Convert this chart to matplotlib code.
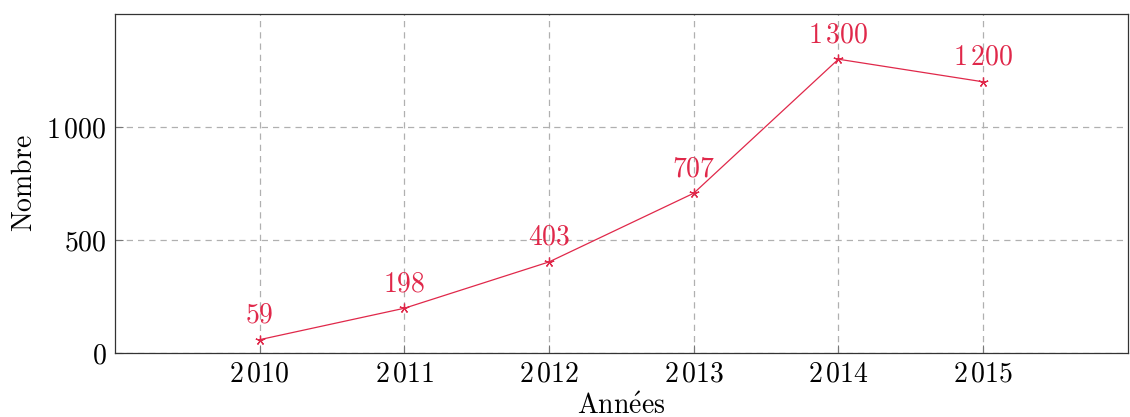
import matplotlib
matplotlib.use("Agg")
import matplotlib.pyplot as plt

years = [2010, 2011, 2012, 2013, 2014, 2015]
counts = [59, 198, 403, 707, 1300, 1200]
point_labels = ["59", "198", "403", "707", r"1\,300", r"1\,200"]
ytick_vals = [0, 500, 1000]
ytick_labels = ["0", "500", r"1\,000"]
xtick_labels = [r"2\,010", r"2\,011", r"2\,012", r"2\,013", r"2\,014", r"2\,015"]

plt.rcParams["mathtext.fontset"] = "cm"
plt.rcParams["font.family"] = ["cmr10", "DejaVu Serif"]
plt.rcParams["axes.unicode_minus"] = False

red = "#e0284a"
fs = 20

fig = plt.figure(figsize=(11.3, 4.17), dpi=100)
ax = fig.add_axes([0.1018, 0.1535, 0.8962, 0.8129])

ax.plot(years, counts, color=red, lw=0.9, marker=(5, 2, 0), ms=7, mew=0.9)
for x, y, lab in zip(years, counts, point_labels):
    ax.annotate(f"${lab}$", xy=(x, y), xytext=(0, 8), textcoords="offset points",
                ha="center", va="bottom", color=red, fontsize=fs)

ax.set_xlim(2009, 2016)
ax.set_ylim(0, 1500)
ax.set_xticks(years)
ax.set_xticklabels([f"${t}$" for t in xtick_labels], fontsize=fs)
ax.set_yticks(ytick_vals)
ax.set_yticklabels([f"${t}$" for t in ytick_labels], fontsize=fs)
ax.tick_params(direction="in", length=6, color="#777777", width=0.8, pad=6)
ax.grid(True, color="#b0b0b0", ls=(0, (5, 4)), lw=0.9)
for s in ax.spines.values():
    s.set_color("#333333")
    s.set_linewidth(0.9)

ax.set_xlabel(r"$\mathrm{Ann\acute{e}es}$", fontsize=fs, labelpad=4)
ax.set_ylabel(r"$\mathrm{Nombre}$", fontsize=fs, labelpad=6)

fig.savefig("out.png", dpi=100)
